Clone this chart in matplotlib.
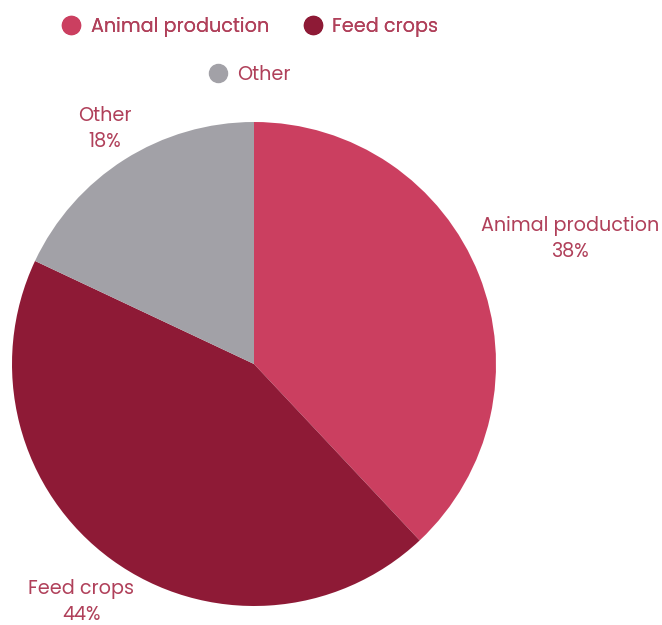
import matplotlib
matplotlib.use("Agg")
import matplotlib.pyplot as plt
from matplotlib.lines import Line2D
import numpy as np

categories = ["Animal production", "Feed crops", "Other"]
values = [38, 44, 18]
colors = ["#CB3F60", "#8E1A36", "#A2A1A7"]
text_color = "#B0405A"
label_dist = [1.405, 1.215, 1.15]

plt.rcParams['font.family'] = ['Poppins', 'Lato', 'DejaVu Sans']

fig = plt.figure(figsize=(6.62, 6.25), dpi=100)
ax = fig.add_axes([12/662, 19/625, 484/662, 484/625])
wedges, _ = ax.pie(values, colors=colors, startangle=90, counterclock=False,
                   radius=1, wedgeprops=dict(linewidth=0))
ax.set_xlim(-1, 1)
ax.set_ylim(-1, 1)
ax.set_aspect('auto')
ax.axis('off')

for w, cat, v, d in zip(wedges, categories, values, label_dist):
    ang = np.deg2rad((w.theta1 + w.theta2) / 2)
    x, y = d * np.cos(ang), d * np.sin(ang)
    ax.text(x, y, f"{cat}\n{v}%", ha='center', va='center', color=text_color,
            fontsize=13.8, linespacing=1.4, clip_on=False)

handles = [Line2D([], [], marker='o', linestyle='none', markersize=13,
                  markerfacecolor=c, markeredgecolor=c) for c in colors]
leg1 = fig.legend(handles[:2], categories[:2], ncol=2, loc='center',
                  bbox_to_anchor=(250/662, 1 - 27/625), frameon=False,
                  fontsize=13.8, labelcolor=text_color, handletextpad=0.5,
                  columnspacing=1.8, handlelength=1.0)
fig.add_artist(leg1)
fig.legend(handles[2:], categories[2:], ncol=1, loc='center',
           bbox_to_anchor=(250/662, 1 - 75/625), frameon=False,
           fontsize=13.8, labelcolor=text_color, handletextpad=0.5,
           handlelength=1.0)

fig.savefig("out.png", dpi=100)
